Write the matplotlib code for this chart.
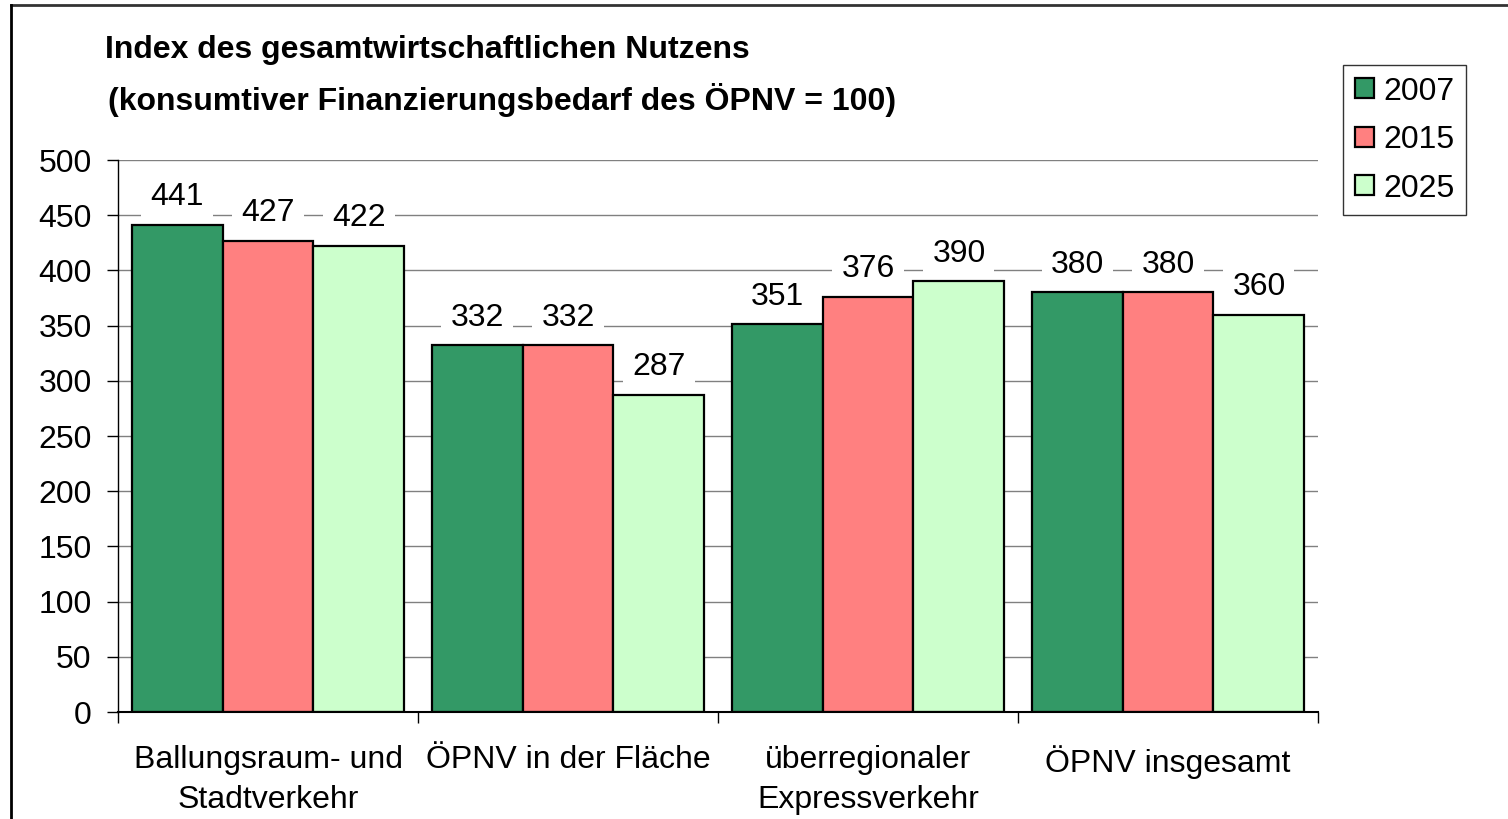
import matplotlib
matplotlib.use("Agg")
import matplotlib.pyplot as plt
from matplotlib.lines import Line2D
import numpy as np

plt.rcParams['font.family'] = ['Liberation Sans', 'DejaVu Sans']

categories = ["Ballungsraum- und\nStadtverkehr", "ÖPNV in der Fläche",
              "überregionaler\nExpressverkehr", "ÖPNV insgesamt"]
series_names = ["2007", "2015", "2025"]
values_2007 = [441, 332, 351, 380]
values_2015 = [427, 332, 376, 380]
values_2025 = [422, 287, 390, 360]
series_values = [values_2007, values_2015, values_2025]
colors = ["#339966", "#FF8080", "#CCFFCC"]
yticks = [0, 50, 100, 150, 200, 250, 300, 350, 400, 450, 500]
title_lines = ["Index des gesamtwirtschaftlichen Nutzens",
               "(konsumtiver Finanzierungsbedarf des ÖPNV = 100)"]

W, H = 1508, 819
fig = plt.figure(figsize=(W / 100, H / 100), dpi=100)
ax = fig.add_axes([118 / W, 1 - 712 / H, 1200 / W, 552 / H])

FS = 23
x = np.arange(len(categories))
w = 1 / 3.3
for i, (name, vals, col) in enumerate(zip(series_names, series_values, colors)):
    ax.bar(x + (i - 1) * w, vals, width=w, color=col, edgecolor="black",
           linewidth=1.6, label=name, zorder=2)
    for xi, v in zip(x + (i - 1) * w, vals):
        ax.annotate(str(v), (xi, v), xytext=(0, 20), textcoords="offset points",
                    ha="center", va="center", fontsize=FS, zorder=4,
                    bbox=dict(boxstyle="square,pad=0.28", facecolor="white",
                              edgecolor="none"))

ax.set_xlim(-0.5, len(categories) - 0.5)
ax.set_ylim(0, 500)
ax.set_yticks(yticks)
ax.set_yticklabels([str(t) for t in yticks], fontsize=FS)
ax.yaxis.grid(True, color="#808080", linewidth=1.0, zorder=0)
ax.set_axisbelow(True)

ax.set_xticks(x)
ax.set_xticklabels(categories, fontsize=FS, linespacing=1.4)
ax.tick_params(axis="x", which="major", length=0, pad=24)
ax.set_xticks(np.arange(-0.5, len(categories)), minor=True)
ax.tick_params(axis="x", which="minor", length=8, width=1, direction="out")
ax.tick_params(axis="y", length=8, width=1, direction="out", pad=11)

for s in ["top", "right"]:
    ax.spines[s].set_visible(False)
ax.spines["left"].set_color("black")
ax.spines["bottom"].set_color("black")
ax.spines["left"].set_linewidth(1)
ax.spines["bottom"].set_linewidth(1.5)

fig.text(105 / W, 1 - 50 / H, title_lines[0], fontsize=FS, fontweight="bold",
         ha="left", va="center")
fig.text(108 / W, 1 - 100 / H, title_lines[1], fontsize=FS, fontweight="bold",
         ha="left", va="center")

leg = fig.legend(loc="upper left", bbox_to_anchor=(1343 / W, 1 - 65 / H),
                 fontsize=FS, frameon=True, fancybox=False, handlelength=0.6,
                 handleheight=0.6, handletextpad=0.3, borderpad=0.36,
                 labelspacing=0.58, borderaxespad=0)
leg.get_frame().set_edgecolor("black")
leg.get_frame().set_linewidth(1)

fig.add_artist(Line2D([11 / W, 1], [1 - 5 / H, 1 - 5 / H], color="#333333",
                      linewidth=2, transform=fig.transFigure))
fig.add_artist(Line2D([11 / W, 11 / W], [0, 1 - 5 / H], color="black",
                      linewidth=2, transform=fig.transFigure))

fig.savefig("out.png", dpi=100, facecolor="white")
